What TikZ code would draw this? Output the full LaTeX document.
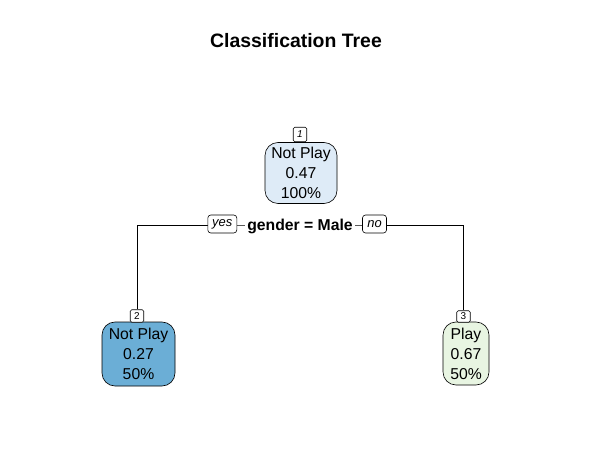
\documentclass[tikz,border=0pt]{standalone}
\usepackage{fontspec}
\setmainfont{Liberation Sans}
\definecolor{rootc}{HTML}{DEEBF7}
\definecolor{leftc}{HTML}{6BAED6}
\definecolor{rightc}{HTML}{E8F5E2}
\begin{document}
\begin{tikzpicture}[x=1bp,y=-1bp,
  leaf/.style={draw=black,line width=0.6bp,rounded corners=13bp,inner sep=0pt,align=center,
    font=\fontsize{15.8}{20}\selectfont},
  numlab/.style={draw=black,fill=white,line width=0.6bp,rounded corners=1.5bp,inner sep=0pt,
    minimum width=13.5bp,font=\fontsize{10}{11}\selectfont},
  edgelab/.style={draw=black,fill=white,line width=0.6bp,rounded corners=3bp,inner sep=0pt,
    minimum height=18bp,font=\itshape\fontsize{13}{14}\selectfont},
  conn/.style={line width=0.7bp}]
\useasboundingbox[fill=white] (0,0) rectangle (592,466);
\node[font=\bfseries\fontsize{19.5}{22}\selectfont] (title) at (296,41) {Classification Tree};
\node[leaf,fill=rootc,minimum width=72bp,minimum height=61bp] (n1) at (301,173) {Not Play\\0.47\\100\%};
\node[leaf,fill=leftc,minimum width=73bp,minimum height=64bp] (n2) at (138.5,354) {Not Play\\0.27\\50\%};
\node[leaf,fill=rightc,minimum width=46bp,minimum height=63bp] (n3) at (466,353.5) {Play\\0.67\\50\%};
\node[numlab,minimum height=14.5bp,font=\itshape\fontsize{10}{11}\selectfont] (lab1) at (300,134.5) {1};
\node[numlab,minimum height=12.5bp] (lab2) at (137,316) {2};
\node[numlab,minimum height=11.5bp] (lab3) at (463.5,316.5) {3};
\coordinate (sc) at (300,225);
\draw[conn] (lab2.north) |- (sc) -| (lab3.north);
\node[fill=white,inner xsep=2.5bp,inner ysep=1bp,anchor=base,font=\bfseries\fontsize{15.8}{18}\selectfont] (split) at (300,231) {gender = Male};
\node[edgelab,minimum width=29bp] (yes) at (222.3,224) {yes};
\node[edgelab,minimum width=24bp] (no) at (374.5,224) {no};
\end{tikzpicture}
\end{document}
